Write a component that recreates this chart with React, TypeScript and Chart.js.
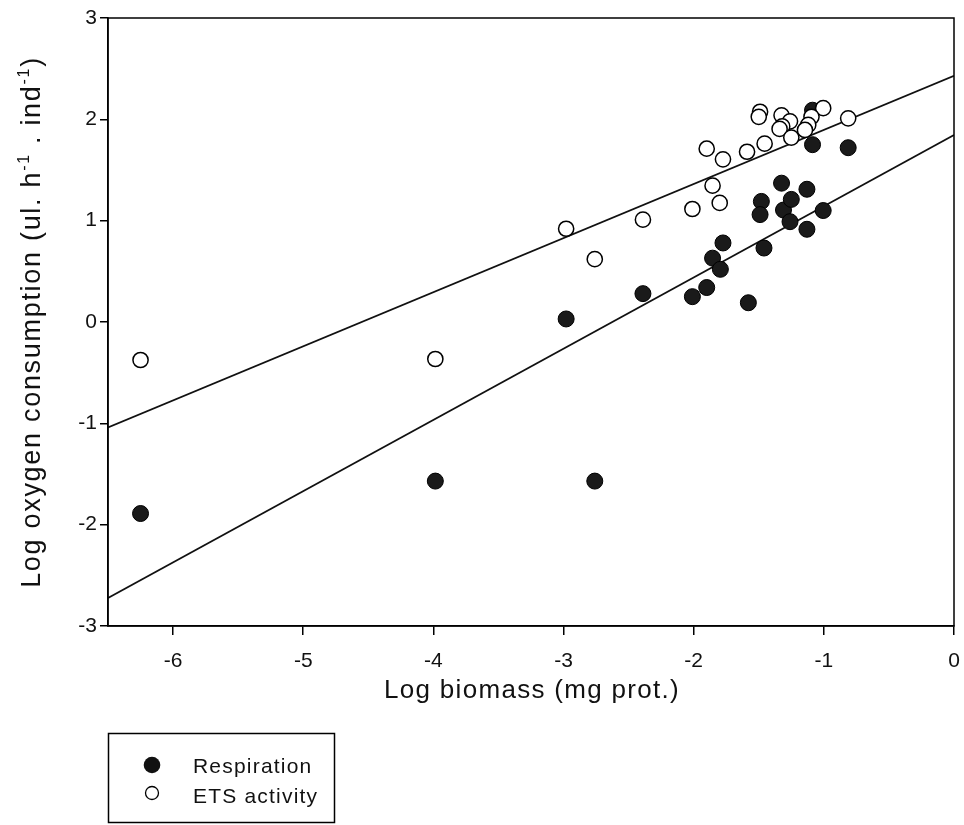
import React, { useEffect, useRef } from 'react';
import { Chart, registerables } from 'chart.js';

Chart.register(...registerables);

// ---- data ----
const seriesNames = ['Respiration', 'ETS activity'];

const respX = [-6.25, -3.985, -2.76, -2.98, -2.39, -2.01, -1.9, -1.855, -1.795, -1.775, -1.58, -1.48, -1.49, -1.46, -1.325, -1.31, -1.25, -1.26, -1.13, -1.13, -1.087, -1.087, -1.005, -0.813];
const respY = [-1.89, -1.57, -1.57, 0.03, 0.28, 0.25, 0.34, 0.63, 0.52, 0.78, 0.19, 1.19, 1.06, 0.73, 1.37, 1.105, 1.21, 0.99, 1.31, 0.915, 1.75, 2.09, 1.1, 1.72];

const etsX = [-6.25, -3.985, -2.98, -2.76, -2.39, -2.01, -1.9, -1.855, -1.8, -1.775, -1.59, -1.455, -1.49, -1.5, -1.325, -1.26, -1.32, -1.34, -1.25, -1.005, -1.095, -1.12, -1.145, -0.813];
const etsY = [-0.375, -0.365, 0.92, 0.62, 1.01, 1.115, 1.71, 1.345, 1.175, 1.605, 1.68, 1.76, 2.075, 2.025, 2.04, 1.98, 1.93, 1.905, 1.82, 2.11, 2.025, 1.945, 1.895, 2.01];

// regression lines: [ETS, Respiration]
const fitSlopes = [0.534, 0.703];
const fitIntercepts = [2.43, 1.845];

const xRange = [-6.5, 0];
const yRange = [-3, 3];
const xTicks = [-6, -5, -4, -3, -2, -1, 0];
const yTicks = [-3, -2, -1, 0, 1, 2, 3];

const xTitle = 'Log biomass (mg prot.)';
const yTitleParts: { t: string; sup: boolean }[] = [
  { t: 'Log oxygen consumption (ul. h', sup: false },
  { t: '-1', sup: true },
  { t: ' . ind', sup: false },
  { t: '-1', sup: true },
  { t: ')', sup: false },
];

const FAMILY = '"Liberation Sans", Arial, Helvetica, sans-serif';

const overlay = {
  id: 'overlay',
  afterDraw(chart: any) {
    const { ctx, chartArea: a } = chart;
    ctx.save();
    // frame
    ctx.strokeStyle = '#000';
    ctx.lineWidth = 1.5;
    ctx.strokeRect(a.left, a.top, a.right - a.left, a.bottom - a.top);

    // x title
    ctx.fillStyle = '#111';
    ctx.font = `26px ${FAMILY}`;
    (ctx as any).letterSpacing = '1.3px';
    ctx.textAlign = 'center';
    ctx.textBaseline = 'alphabetic';
    ctx.fillText(xTitle, (a.left + a.right) / 2 + 1, 698);

    // y title (rotated, with superscripts)
    ctx.save();
    ctx.translate(40, (a.top + a.bottom) / 2);
    ctx.rotate(-Math.PI / 2);
    ctx.textAlign = 'left';
    (ctx as any).letterSpacing = '1.7px';
    const mainFont = `27px ${FAMILY}`;
    const supFont = `16px ${FAMILY}`;
    let total = 0;
    for (const p of yTitleParts) {
      ctx.font = p.sup ? supFont : mainFont;
      total += ctx.measureText(p.t).width;
    }
    let x = -total / 2;
    for (const p of yTitleParts) {
      ctx.font = p.sup ? supFont : mainFont;
      ctx.fillText(p.t, x, p.sup ? -11 : 0);
      x += ctx.measureText(p.t).width;
    }
    ctx.restore();

    // legend
    ctx.lineWidth = 1.5;
    ctx.strokeStyle = '#000';
    ctx.strokeRect(108.5, 733.5, 226, 89);
    ctx.beginPath();
    ctx.arc(152, 765, 8.3, 0, Math.PI * 2);
    ctx.fillStyle = '#111';
    ctx.fill();
    ctx.beginPath();
    ctx.arc(152, 793, 6.5, 0, Math.PI * 2);
    ctx.fillStyle = '#fff';
    ctx.fill();
    ctx.lineWidth = 1.3;
    ctx.stroke();
    ctx.fillStyle = '#111';
    ctx.font = `21px ${FAMILY}`;
    (ctx as any).letterSpacing = '1.2px';
    ctx.textAlign = 'left';
    ctx.textBaseline = 'alphabetic';
    ctx.fillText(seriesNames[0], 193, 773);
    ctx.fillText(seriesNames[1], 193, 803);
    ctx.restore();
  },
};

export default function App() {
  const ref = useRef<HTMLCanvasElement | null>(null);

  useEffect(() => {
    const canvas = ref.current;
    if (!canvas) return;
    const lineData = (i: number) => xRange.map((x) => ({ x, y: fitIntercepts[i] + fitSlopes[i] * x }));
    const chart = new Chart(canvas, {
      type: 'scatter',
      data: {
        datasets: [
          {
            label: seriesNames[1],
            data: etsX.map((x, i) => ({ x, y: etsY[i] })),
            pointRadius: 7.6,
            pointBackgroundColor: '#fff',
            pointBorderColor: '#000',
            pointBorderWidth: 1.5,
            order: 0,
          },
          {
            label: seriesNames[0],
            data: respX.map((x, i) => ({ x, y: respY[i] })),
            pointRadius: 8,
            pointBackgroundColor: '#1a1a1a',
            pointBorderColor: '#000',
            pointBorderWidth: 1,
            order: 1,
          },
          {
            type: 'line',
            label: 'fit ETS',
            data: lineData(0),
            borderColor: '#111',
            borderWidth: 1.8,
            pointRadius: 0,
            order: 2,
          } as any,
          {
            type: 'line',
            label: 'fit Resp',
            data: lineData(1),
            borderColor: '#111',
            borderWidth: 1.8,
            pointRadius: 0,
            order: 3,
          } as any,
        ],
      },
      options: {
        animation: false,
        responsive: false,
        devicePixelRatio: 1,
        layout: { padding: { top: 18, right: 10, left: 0, bottom: 0 } },
        plugins: { legend: { display: false }, tooltip: { enabled: false } },
        scales: {
          x: {
            type: 'linear',
            min: xRange[0],
            max: xRange[1],
            afterBuildTicks: (s: any) => {
              s.ticks = xTicks.map((v) => ({ value: v }));
            },
            afterFit: (s: any) => {
              s.height = 199;
              s.paddingLeft = 0;
              s.paddingRight = 0;
            },
            grid: { drawOnChartArea: false, drawTicks: true, tickLength: 9, color: '#000', lineWidth: 1.5 },
            border: { display: true, color: '#000', width: 1.5 },
            ticks: { color: '#111', font: { family: FAMILY, size: 21 }, padding: 14, maxRotation: 0, autoSkip: false },
          },
          y: {
            type: 'linear',
            min: yRange[0],
            max: yRange[1],
            afterBuildTicks: (s: any) => {
              s.ticks = yTicks.map((v) => ({ value: v }));
            },
            afterFit: (s: any) => {
              s.width = 108;
              s.paddingTop = 0;
              s.paddingBottom = 0;
            },
            grid: { drawOnChartArea: false, drawTicks: true, tickLength: 8, color: '#000', lineWidth: 1.5 },
            border: { display: true, color: '#000', width: 1.5 },
            ticks: { color: '#111', font: { family: FAMILY, size: 21 }, padding: 3, autoSkip: false },
          },
        },
      } as any,
      plugins: [overlay],
    });
    return () => chart.destroy();
  }, []);

  return (
    <div style={{ position: 'absolute', left: 0, top: 0, width: 964, height: 825, background: '#fff' }}>
      <canvas ref={ref} width={964} height={825} style={{ display: 'block', width: 964, height: 825 }} />
    </div>
  );
}
